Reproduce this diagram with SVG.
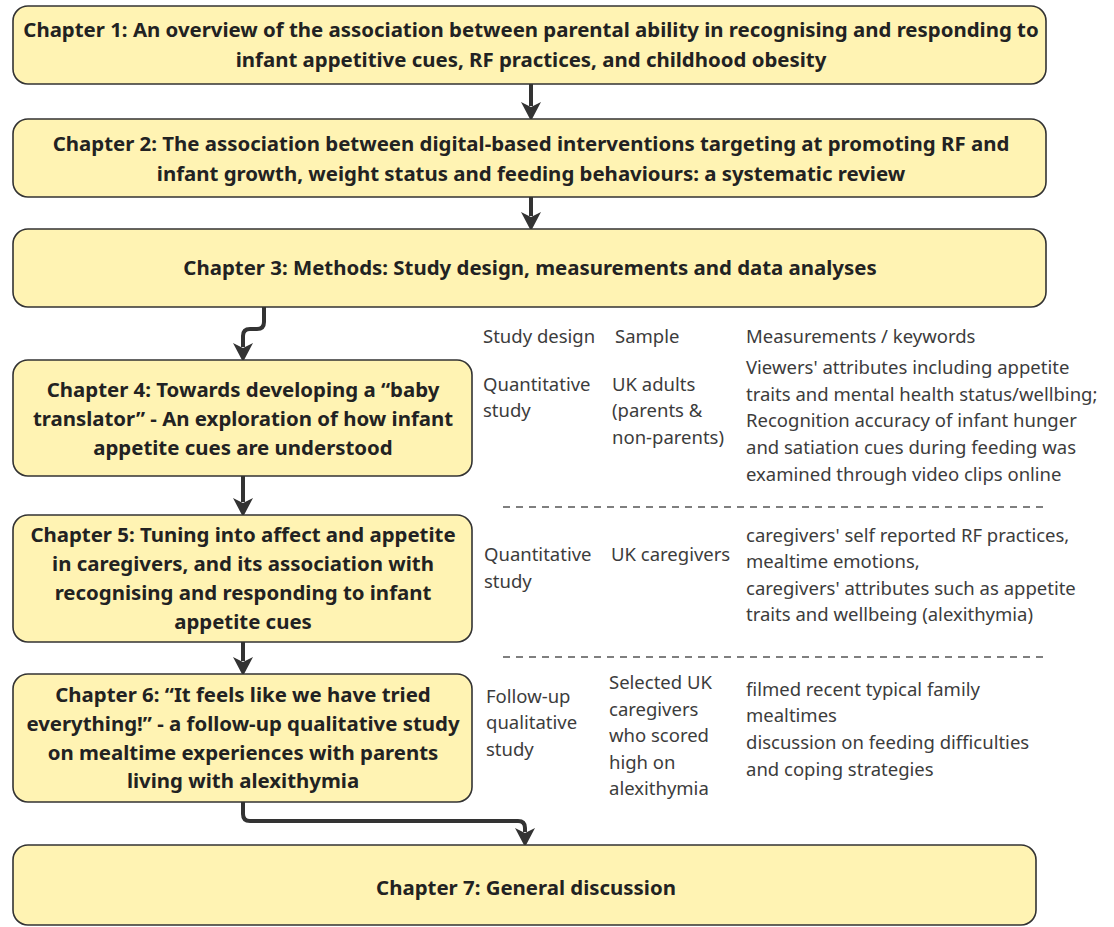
<svg xmlns="http://www.w3.org/2000/svg" width="1114" height="927" viewBox="0 0 1114 927">
<style>
.box{fill:#fff3b3;stroke:#333;stroke-width:1.6}
.t{font-family:"Noto Sans","Open Sans","DejaVu Sans",sans-serif;font-weight:bold;font-size:20.4px;fill:#222;text-anchor:middle}
.s{font-family:"Noto Sans","Open Sans","DejaVu Sans",sans-serif;font-size:18.5px;fill:#3c3c3c}
.c{fill:none;stroke:#333;stroke-width:4}
.d{fill:none;stroke:#555;stroke-width:1.6;stroke-dasharray:7 6}
</style>
<defs>
<marker id="ah" markerUnits="userSpaceOnUse" markerWidth="20" markerHeight="22" refX="4" refY="11" orient="auto" viewBox="0 0 20 22">
<path d="M0,1 L19,11 L0,21 L5,11 Z" fill="#333"/>
</marker>
</defs>
<rect width="1114" height="927" fill="#fff"/>
<g id="connectors">
<line class="c" x1="531" y1="84" x2="531" y2="106" marker-end="url(#ah)"/>
<line class="c" x1="531" y1="197" x2="531" y2="216" marker-end="url(#ah)"/>
<path class="c" d="M264 307 V322 Q264 329 257 329 H250 Q243 329 243 336 V347" marker-end="url(#ah)"/>
<line class="c" x1="243" y1="476" x2="243" y2="502" marker-end="url(#ah)"/>
<line class="c" x1="243" y1="642" x2="243" y2="661" marker-end="url(#ah)"/>
<path class="c" d="M243 802 V814 Q243 821 250 821 H518 Q525 821 525 828 V832" marker-end="url(#ah)"/>
</g>
<g id="ch1">
<rect class="box" x="13" y="6" width="1033" height="78" rx="15"/>
<text class="t" x="531" y="37">Chapter 1: An overview of the association between parental ability in recognising and responding to</text>
<text class="t" x="531" y="67">infant appetitive cues, RF practices, and childhood obesity</text>
</g>
<g id="ch2">
<rect class="box" x="13" y="119" width="1033" height="78" rx="15"/>
<text class="t" x="531" y="151">Chapter 2: The association between digital-based interventions targeting at promoting RF and</text>
<text class="t" x="531" y="181">infant growth, weight status and feeding behaviours: a systematic review</text>
</g>
<g id="ch3">
<rect class="box" x="13" y="229" width="1033" height="78" rx="15"/>
<text class="t" x="530" y="275">Chapter 3: Methods: Study design, measurements and data analyses</text>
</g>
<g id="ch4">
<rect class="box" x="13" y="360" width="459" height="116" rx="15"/>
<text class="t" x="243" y="397">Chapter 4: Towards developing a “baby</text>
<text class="t" x="243" y="426">translator” - An exploration of how infant</text>
<text class="t" x="243" y="455">appetite cues are understood</text>
</g>
<g id="ch5">
<rect class="box" x="13" y="515" width="459" height="127" rx="15"/>
<text class="t" x="243" y="542">Chapter 5: Tuning into affect and appetite</text>
<text class="t" x="243" y="571">in caregivers, and its association with</text>
<text class="t" x="243" y="600">recognising and responding to infant</text>
<text class="t" x="243" y="629">appetite cues</text>
</g>
<g id="ch6">
<rect class="box" x="13" y="674" width="459" height="128" rx="15"/>
<text class="t" x="243" y="702">Chapter 6: “It feels like we have tried</text>
<text class="t" x="243" y="731">everything!” - a follow-up qualitative study</text>
<text class="t" x="243" y="760">on mealtime experiences with parents</text>
<text class="t" x="243" y="788">living with alexithymia</text>
</g>
<g id="ch7">
<rect class="box" x="13" y="845" width="1023" height="80" rx="15"/>
<text class="t" x="526" y="895">Chapter 7: General discussion</text>
</g>
<g id="table">
<text class="s" x="483" y="343">Study design</text>
<text class="s" x="615" y="343">Sample</text>
<text class="s" x="746" y="343">Measurements / keywords</text>
<text class="s" x="483" y="391">Quantitative</text>
<text class="s" x="483" y="417">study</text>
<text class="s" x="612" y="391">UK adults</text>
<text class="s" x="612" y="417">(parents &amp;</text>
<text class="s" x="612" y="444">non-parents)</text>
<text class="s" x="746" y="374">Viewers' attributes including appetite</text>
<text class="s" x="746" y="401">traits and mental health status/wellbing;</text>
<text class="s" x="746" y="427">Recognition accuracy of infant hunger</text>
<text class="s" x="746" y="454">and satiation cues during feeding was</text>
<text class="s" x="746" y="481">examined through video clips online</text>
<line class="d" x1="503" y1="507" x2="1043" y2="507"/>
<text class="s" x="484" y="561">Quantitative</text>
<text class="s" x="484" y="588">study</text>
<text class="s" x="611" y="561">UK caregivers</text>
<text class="s" x="746" y="542">caregivers' self reported RF practices,</text>
<text class="s" x="746" y="568">mealtime emotions,</text>
<text class="s" x="746" y="595">caregivers' attributes such as appetite</text>
<text class="s" x="746" y="621">traits and wellbeing (alexithymia)</text>
<line class="d" x1="503" y1="657" x2="1043" y2="657"/>
<text class="s" x="486" y="703">Follow-up</text>
<text class="s" x="486" y="729">qualitative</text>
<text class="s" x="486" y="756">study</text>
<text class="s" x="609" y="689">Selected UK</text>
<text class="s" x="609" y="716">caregivers</text>
<text class="s" x="609" y="742">who scored</text>
<text class="s" x="609" y="769">high on</text>
<text class="s" x="609" y="795">alexithymia</text>
<text class="s" x="746" y="696">filmed recent typical family</text>
<text class="s" x="746" y="722">mealtimes</text>
<text class="s" x="746" y="749">discussion on feeding difficulties</text>
<text class="s" x="746" y="776">and coping strategies</text>
</g>
</svg>
